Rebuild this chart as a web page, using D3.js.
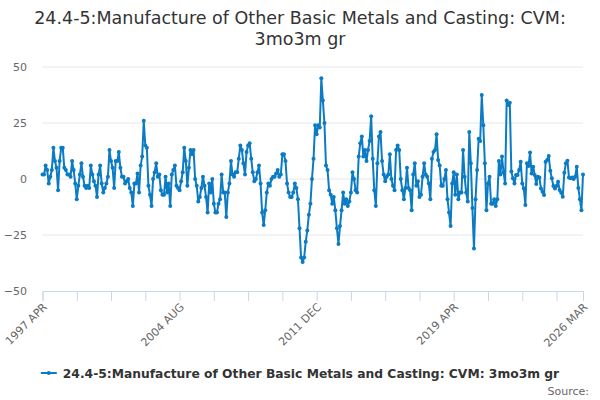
<!DOCTYPE html>
<html>
<head>
<meta charset="utf-8">
<script src="https://cdn.jsdelivr.net/npm/d3@7"></script>
<style>
  body { margin: 0; background: #fff; }
  svg { font-family: "DejaVu Sans", sans-serif; }
</style>
</head>
<body>
<svg id="chart" width="600" height="400"></svg>
<script>
var titleLines = ["24.4-5:Manufacture of Other Basic Metals and Casting: CVM:", "3mo3m gr"];
var seriesName = "24.4-5:Manufacture of Other Basic Metals and Casting: CVM: 3mo3m gr";
var firstMonth = new Date(1997, 3, 1);   // 1997 APR

// monthly 3mo3m growth, 1997 APR .. 2026 MAR
var values = [
    2, 2, 6, 4, -2, 1, 4, 14, 8, 5,
    -5, 8, 14, 14, 5, 4, 2, 2, 1, 8,
    4, -2, -9, -3, 2, 7, 1, -3, -4, -3,
    -4, 6, 2, -1, -3, -8, 2, 6, -2, -6,
    -4, -2, 1, 13, 8, 5, -4, 8, 8, 12,
    5, 1, 1, -2, -1, 0, -4, -6, -12, -2,
    -2, 2.5, -6, 6, 10, 26, 15, 14, -3, -7,
    -12, 0, 3, 7, 1, 2, -5, -7, -7, 1,
    -6, -2, -12, 2, 4, 6, -3, -4, -5, -1,
    3, 14, 8, -3, 5, 13, 11, 13, 0, -3,
    -10, -8, -4, 1, -3, -8, -15, -2, -6, 0,
    -11, -15, -15, -11, -9, 2, -6, -6, -17, -6,
    -2, 8, 2, 1, 3, 3, 9, 15, 13, 7,
    2, 12, 15, 16, 9, 3, -1, 0, 3, 6,
    -2, -15, -20.5, -14, -6, -2, -3, 0, 1, 1,
    2.5, 4, 1, 2, 11, 11, 8, -2, -6, -8,
    -8, -6, -2, -4, -9, -22, -35, -37, -35, -28,
    -23, -16, -11, 0, 9, 24, 20, 24, 23, 45,
    35, 25, 6, 4, -5, -7, -11, -8, -14, -22,
    -29, -21, -14, -6, -11, -9, -12, -10, -6, 3,
    0, -5, -6, 10, 16, 19, 10, 13, 8, 13,
    17, 28, 9, -5, -12, 7, 19, 21, 8, 2,
    -1, 1, 2, 11, 0, -3, -5, 13, 15, 13,
    0, -5, -9, -4, 5, -4, -5, -14, 2, 7,
    -3, -1, -8, -7, 1, 7, 2, 1, -2, -9,
    9, 12, 13, 20, 8.5, 6, -3, -3, 0, 4,
    -9, -15, -21, -2, 3, -7, 2, -9, -6, -6,
    13, 1, -6, -10, 21, 7, -13, -31, -9, 4,
    18, 17, 37.5, 24, 7, -14, -2, 1, -11, -11,
    -9, -12, -9, 8, 2, 10, 3, -2, 35, 33,
    34, 3.3, 0.3, -2, 1.8, 1.8, 4, 7.7, -2, -4.2,
    -11.6, 7, 5.8, 11.8, 2.5, 5.5, 1.8, -2.2, 1, 0.7,
    -4.2, -5.7, -7.1, 7.7, 8.5, 10.3, 3.7, 0.3, -3.1, -4.2,
    -3.1, -1.2, -4.9, -6.1, -7.9, 2.8, 7, 8.2, 0.7, 0.3,
    0.7, 0, 1, 5.5, -4, -9, -14, 2
];

var tickLabels = ["1997 APR", "2004 AUG", "2011 DEC", "2019 APR", "2026 MAR"];
var yTicks = [-50, -25, 0, 25, 50];
var tickEvery = 22;    // months between x tick marks

var fmt = d3.timeFormat("%Y %b");
var months = values.map(function (d, i) {
    return fmt(d3.timeMonth.offset(firstMonth, i)).toUpperCase();
});

var margin = { top: 67, right: 17, bottom: 109, left: 42.5 };
var width = 600, height = 400;
var color = "#0b7bc4";

var x = d3.scaleLinear()
    .domain([0, values.length - 1])
    .range([margin.left, width - margin.right]);
var y = d3.scaleLinear()
    .domain([-50, 50])
    .range([height - margin.bottom, margin.top]);

var svg = d3.select("#chart");

// title
svg.append("text")
    .attr("x", 300)
    .attr("y", 24)
    .attr("text-anchor", "middle")
    .attr("fill", "#333333")
    .attr("font-size", 17.5)
    .selectAll("tspan")
    .data(titleLines)
    .enter().append("tspan")
    .attr("x", 300)
    .attr("dy", function (d, i) { return i ? 21 : 0; })
    .text(function (d) { return d; });

// grid lines
svg.append("g")
    .selectAll("line")
    .data(yTicks.filter(function (d) { return d > -50; }))
    .enter().append("line")
    .attr("x1", margin.left)
    .attr("x2", width - margin.right)
    .attr("y1", function (d) { return y(d); })
    .attr("y2", function (d) { return y(d); })
    .attr("stroke", "#e6e6e6")
    .attr("stroke-width", 1);

// y axis labels
var yAxis = d3.axisLeft(y).tickValues(yTicks).tickSize(0).tickPadding(0);
var gy = svg.append("g")
    .attr("transform", "translate(27,0)")
    .call(yAxis);
gy.select(".domain").remove();
gy.selectAll("text")
    .attr("fill", "#666666")
    .attr("font-size", 11)
    .attr("font-family", "DejaVu Sans, sans-serif");

// x axis
var tickIdx = d3.range(0, values.length, tickEvery);
if (tickIdx[tickIdx.length - 1] !== values.length - 1) tickIdx.push(values.length - 1);

var xAxis = d3.axisBottom(x)
    .tickValues(tickIdx)
    .tickSize(10)
    .tickFormat(function (i) {
        return tickLabels.indexOf(months[i]) >= 0 ? months[i] : "";
    });
var gx = svg.append("g")
    .attr("transform", "translate(0," + y(-50) + ")")
    .call(xAxis);
gx.select(".domain").attr("stroke", "#ccd6eb");
gx.selectAll(".tick line").attr("stroke", "#ccd6eb");
gx.selectAll("text")
    .attr("fill", "#666666")
    .attr("font-size", 11)
    .attr("font-family", "DejaVu Sans, sans-serif")
    .attr("text-anchor", "end")
    .attr("x", 0)
    .attr("y", 0)
    .attr("dy", "0.35em")
    .attr("transform", "translate(2,14) rotate(-45)");

// series
var line = d3.line()
    .x(function (d, i) { return x(i); })
    .y(function (d) { return y(d); });

svg.append("path")
    .datum(values)
    .attr("fill", "none")
    .attr("stroke", color)
    .attr("stroke-width", 2)
    .attr("stroke-linejoin", "round")
    .attr("d", line);

svg.append("g")
    .selectAll("circle")
    .data(values)
    .enter().append("circle")
    .attr("cx", function (d, i) { return x(i); })
    .attr("cy", function (d) { return y(d); })
    .attr("r", 2)
    .attr("fill", color);

// legend
var legend = svg.append("g").attr("transform", "translate(0,373)");
var legendText = legend.append("text")
    .attr("y", 5)
    .attr("font-size", 12.3)
    .attr("font-weight", "bold")
    .attr("fill", "#333333")
    .text(seriesName);
var tw = legendText.node().getComputedTextLength();
var lx = 300 - (16 + 6 + tw) / 2;
legendText.attr("x", lx + 22);
legend.append("line")
    .attr("x1", lx).attr("x2", lx + 16)
    .attr("y1", 0).attr("y2", 0)
    .attr("stroke", color)
    .attr("stroke-width", 2);
legend.append("circle")
    .attr("cx", lx + 8).attr("cy", 0).attr("r", 2)
    .attr("fill", color);

// credits
svg.append("text")
    .attr("x", 589)
    .attr("y", 395)
    .attr("text-anchor", "end")
    .attr("font-size", 11)
    .attr("fill", "#666666")
    .text("Source:");
</script>
</body>
</html>
